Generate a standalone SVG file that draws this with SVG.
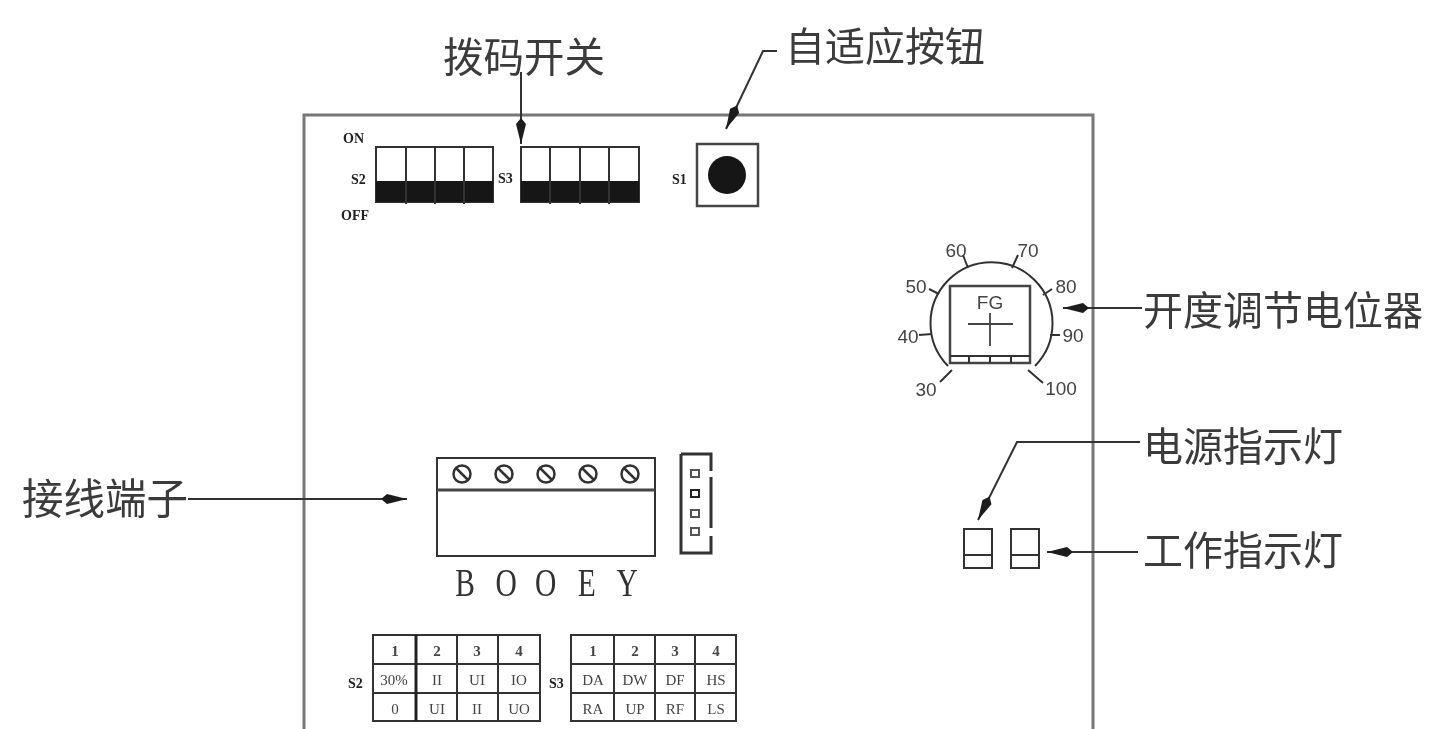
<svg xmlns="http://www.w3.org/2000/svg" width="1429" height="729" viewBox="0 0 1429 729">
<style>
.ln{fill:none;stroke:#333;stroke-width:2}
.bd{fill:none;stroke:#777;stroke-width:3}
.cj{font-family:"Noto Sans CJK SC","Noto Sans",sans-serif;font-size:40px;fill:#3a3a3a}
.sf{font-family:"Liberation Serif",serif;fill:#333}
.bs{font-family:"Liberation Serif",serif;font-weight:bold;font-size:14px;fill:#222}
.ss{font-family:"Liberation Sans",sans-serif;font-size:19px;fill:#444;text-anchor:middle}
.tc{font-family:"Liberation Serif",serif;font-size:15px;fill:#444;text-anchor:middle}
.con{fill:none;stroke:#333;stroke-width:2}
.blk{fill:#151515}
</style>
<defs>
<filter id="soft" x="0" y="0" width="100%" height="100%"><feGaussianBlur stdDeviation="0.7"/></filter>
<marker id="ah" markerUnits="userSpaceOnUse" markerWidth="28" markerHeight="14" refX="26" refY="7" orient="auto"><path d="M0 7 L6 2 L26 7 L6 12 Z" fill="#1c1c1c"/></marker>
</defs>
<rect width="1429" height="729" fill="#fff"/>
<g filter="url(#soft)">
<g id="board"><path class="bd" d="M304 729V115H1093V729"/></g>

<g id="connectors">
<path class="con" d="M521 72V144" marker-end="url(#ah)"/>
<path class="con" d="M777 51H763L726 129" marker-end="url(#ah)"/>
<path class="con" d="M1142 308H1063" marker-end="url(#ah)"/>
<path class="con" d="M1140 442H1017L978 520" marker-end="url(#ah)"/>
<path class="con" d="M1138 552H1047" marker-end="url(#ah)"/>
<path class="con" d="M188 499H407" marker-end="url(#ah)"/>
</g>

<g id="dip-s2">
<rect class="ln" x="376" y="147" width="117" height="55"/>
<rect class="blk" x="376" y="181" width="117" height="21"/>
<path class="ln" d="M406 147V204M435 147V204M464 147V204"/>
<text class="bs" x="343" y="143">ON</text>
<text class="bs" x="351" y="184">S2</text>
<text class="bs" x="341" y="220">OFF</text>
</g>
<g id="dip-s3">
<rect class="ln" x="521" y="147" width="118" height="55"/>
<rect class="blk" x="521" y="181" width="118" height="21"/>
<path class="ln" d="M550 147V204M580 147V204M609 147V204"/>
<text class="bs" x="498" y="183">S3</text>
</g>
<g id="button-s1">
<rect x="697" y="144" width="61" height="62" fill="none" stroke="#444" stroke-width="2.5"/>
<circle class="blk" cx="727" cy="175" r="19"/>
<text class="bs" x="672" y="184">S1</text>
</g>

<g id="potentiometer">
<path class="ln" d="M948 366A61 61 0 1 1 1035 366"/>
<rect x="950" y="286" width="80" height="77" fill="#fff" stroke="#444" stroke-width="2.5"/>
<path class="ln" d="M950 356H1030M969 356V363M990 356V363M1011 356V363"/>
<path d="M968 324H1013M990 313V346" fill="none" stroke="#444" stroke-width="1.8"/>
<path class="ln" d="M963 255L968 268M1018 255L1012 268M1052 289L1043 295M1060 335L1050 335M1043 383L1028 370M940 382L952 370M919 335L932 334M929 289L939 294"/>
<text class="ss" x="990" y="309" font-size="17">FG</text>
<text class="ss" x="956" y="257">60</text>
<text class="ss" x="1028" y="257">70</text>
<text class="ss" x="1066" y="293">80</text>
<text class="ss" x="1073" y="342">90</text>
<text class="ss" x="1061" y="395">100</text>
<text class="ss" x="926" y="396">30</text>
<text class="ss" x="908" y="343">40</text>
<text class="ss" x="916" y="293">50</text>
</g>

<g id="terminal">
<rect class="ln" x="437" y="458" width="218" height="98"/>
<path d="M437 490H655" fill="none" stroke="#444" stroke-width="3"/>
<g fill="none" stroke="#333" stroke-width="2.5">
<circle cx="462" cy="474" r="8.5"/><path d="M456 468L468 480"/>
<circle cx="504" cy="474" r="8.5"/><path d="M498 468L510 480"/>
<circle cx="546" cy="474" r="8.5"/><path d="M540 468L552 480"/>
<circle cx="588" cy="474" r="8.5"/><path d="M582 468L594 480"/>
<circle cx="630" cy="474" r="8.5"/><path d="M624 468L636 480"/>
</g>
<text class="sf" font-size="41" text-anchor="middle" transform="scale(0.72 1)" x="646 703 758 815 871" y="596">BOOEY</text>
</g>

<g id="header">
<path d="M681 454V553H711V536M711 528V477M711 471V454H681" fill="none" stroke="#333" stroke-width="3"/>
<g fill="none" stroke="#555" stroke-width="2">
<rect x="691" y="470" width="8" height="7"/>
<rect x="691" y="490" width="8" height="7" stroke="#222"/>
<rect x="691" y="510" width="8" height="7"/>
<rect x="691" y="528" width="8" height="7"/>
</g>
</g>

<g id="leds">
<path class="ln" d="M964 529H992V568H964ZM964 555H992M1011 529H1039V568H1011ZM1011 555H1039" stroke="#444"/>
</g>

<g id="table-s2">
<rect class="ln" x="373" y="635" width="167" height="86"/>
<path class="ln" d="M373 664H540M373 693H540M457 635V721M498 635V721"/>
<path d="M416 635V721" fill="none" stroke="#222" stroke-width="3"/>
<text class="bs" x="348" y="688">S2</text>
<text class="tc" font-weight="bold"><tspan x="395" y="656">1</tspan><tspan x="437" y="656">2</tspan><tspan x="477" y="656">3</tspan><tspan x="519" y="656">4</tspan></text>
<text class="tc"><tspan x="394" y="685">30%</tspan><tspan x="437" y="685">II</tspan><tspan x="477" y="685">UI</tspan><tspan x="519" y="685">IO</tspan></text>
<text class="tc"><tspan x="395" y="714">0</tspan><tspan x="437" y="714">UI</tspan><tspan x="477" y="714">II</tspan><tspan x="519" y="714">UO</tspan></text>
</g>
<g id="table-s3">
<rect class="ln" x="571" y="635" width="165" height="86"/>
<path class="ln" d="M571 664H736M571 693H736M614 635V721M655 635V721M695 635V721"/>
<text class="bs" x="549" y="688">S3</text>
<text class="tc" font-weight="bold"><tspan x="593" y="656">1</tspan><tspan x="635" y="656">2</tspan><tspan x="675" y="656">3</tspan><tspan x="716" y="656">4</tspan></text>
<text class="tc"><tspan x="593" y="685">DA</tspan><tspan x="635" y="685">DW</tspan><tspan x="675" y="685">DF</tspan><tspan x="716" y="685">HS</tspan></text>
<text class="tc"><tspan x="593" y="714">RA</tspan><tspan x="635" y="714">UP</tspan><tspan x="675" y="714">RF</tspan><tspan x="716" y="714">LS</tspan></text>
</g>

<g id="label-dip"><text class="cj" x="443" y="72" font-size="40.5" style="font-size:40.5px">拨码开关</text></g>
<g id="label-adaptive"><text class="cj" x="785" y="61">自适应按钮</text></g>
<g id="label-pot"><text class="cj" x="1143" y="325">开度调节电位器</text></g>
<g id="label-power"><text class="cj" x="1143" y="461">电源指示灯</text></g>
<g id="label-work"><text class="cj" x="1143" y="565">工作指示灯</text></g>
<g id="label-terminal"><text class="cj" x="22" y="514" style="font-size:41.5px">接线端子</text></g>
</g>
</svg>
